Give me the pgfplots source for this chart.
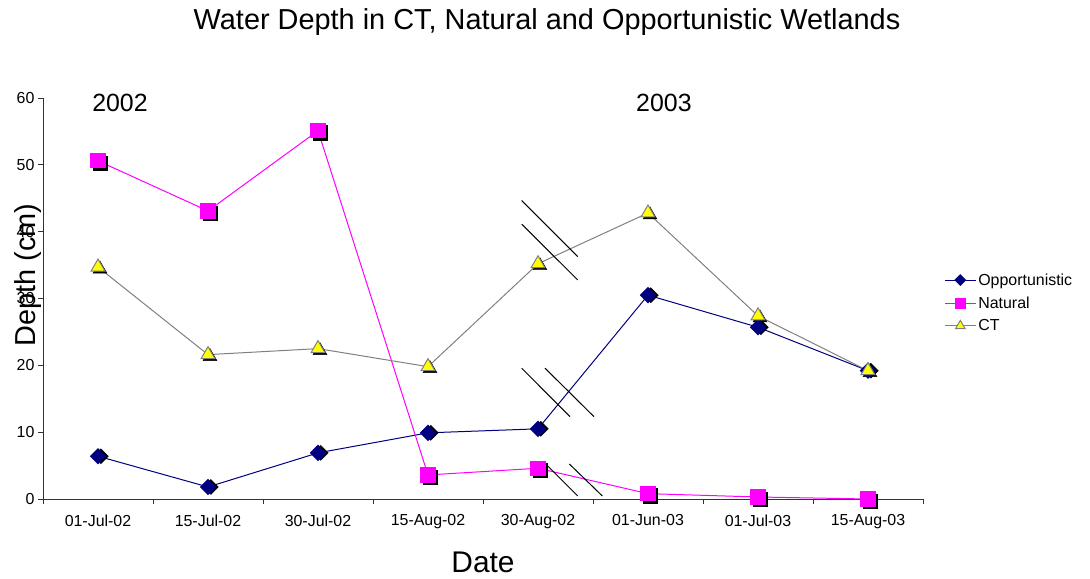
\documentclass[border=0pt]{standalone}
\usepackage{fontspec}
\setmainfont{Liberation Sans}
\usepackage{pgfplots}
\pgfplotsset{compat=1.18}
\definecolor{navyc}{RGB}{0,0,128}
\definecolor{magc}{RGB}{255,0,255}
\definecolor{grayc}{RGB}{128,128,128}
\definecolor{yelc}{RGB}{255,255,0}
\begin{document}
\begin{tikzpicture}
\useasboundingbox (-43bp,-80bp) rectangle (1047bp,499bp);
\begin{axis}[
  scale only axis, width=880bp, height=401bp,
  at={(0,0)}, anchor=south west,
  xmin=-0.5, xmax=7.5, ymin=0, ymax=60,
  axis x line*=bottom, axis y line*=left,
  axis line style={line width=0.8bp, black!80},
  xtick={0,...,7},
  xticklabels={01-Jul-02,15-Jul-02,30-Jul-02,15-Aug-02,30-Aug-02,01-Jun-03,01-Jul-03,15-Aug-03},
  major x tick style={draw=none},
  minor xtick={-0.5,0.5,...,7.5},
  ytick={0,10,...,60},
  tick align=outside,
  major tick length=5bp, minor tick length=5bp,
  tick style={line width=0.8bp, black!80},
  tick label style={font=\fontsize{16}{18}\selectfont},
  xticklabel style={yshift=-7bp},
  /pgf/number format/assume math mode=true,
  clip=false,
  legend style={at={(rel axis cs:1.024,0.489)}, anchor=west, draw=none, fill=none,
    font=\fontsize{16}{18}\selectfont, row sep=6bp, inner sep=0pt},
  legend cell align=left,
  legend image code/.code={\draw[mark repeat=2, mark phase=2, every mark/.append style={scale=0.7}] plot coordinates {(0bp,0bp) (15.5bp,0bp) (31bp,0bp)};},
]
% shadows
\addplot[forget plot, only marks, mark=square*, mark size=5.3bp, mark options={rotate=45, xshift=2bp, yshift=-2bp, fill=black, draw=black}]
  coordinates {(0,6.4) (1,1.8) (2,6.9) (3,9.9) (4,10.5) (5,30.5) (6,25.7) (7,19.2)};
\addplot[forget plot, only marks, mark=square*, mark size=7.1bp, mark options={xshift=2bp, yshift=-2bp, fill=black, draw=black}]
  coordinates {(0,50.6) (1,43.1) (2,55.1) (3,3.6) (4,4.6) (5,0.8) (6,0.3) (7,0)};
\addplot[forget plot, only marks, mark=triangle*, mark size=8bp, mark options={xshift=2bp, yshift=-2bp, fill=black, draw=black}]
  coordinates {(0,34.7) (1,21.6) (2,22.5) (3,19.8) (4,35.2) (5,42.8) (6,27.4) (7,19.2)};
% series
\addplot[navyc, line width=1bp, mark=square*, mark size=5.3bp, mark options={rotate=45, fill=navyc, draw=navyc}]
  coordinates {(0,6.4) (1,1.8) (2,6.9) (3,9.9) (4,10.5) (5,30.5) (6,25.7) (7,19.2)};
\addlegendentry{Opportunistic}
\addplot[magc, line width=1bp, mark=square*, mark size=7.1bp, mark options={fill=magc, draw=magc}]
  coordinates {(0,50.6) (1,43.1) (2,55.1) (3,3.6) (4,4.6) (5,0.8) (6,0.3) (7,0)};
\addlegendentry{Natural}
\addplot[grayc, line width=1bp, mark=triangle*, mark size=8bp, mark options={fill=yelc, draw=grayc, line width=1bp}]
  coordinates {(0,34.7) (1,21.6) (2,22.5) (3,19.8) (4,35.2) (5,42.8) (6,27.4) (7,19.2)};
\addlegendentry{CT}
% break marks
\draw[black, line width=1bp] (axis cs:3.852,44.66) -- (axis cs:4.361,36.27);
\draw[black, line width=1bp] (axis cs:3.852,41.12) -- (axis cs:4.361,32.78);
\draw[black, line width=1bp] (axis cs:3.852,19.57) -- (axis cs:4.291,12.32);
\draw[black, line width=1bp] (axis cs:4.064,19.57) -- (axis cs:4.509,12.32);
\draw[black, line width=1bp] (axis cs:4.079,5.09) -- (axis cs:4.361,0.45);
\draw[black, line width=1bp] (axis cs:4.285,5.24) -- (axis cs:4.585,0.45);
% year labels
\node[font=\fontsize{25}{28}\selectfont] at (axis cs:0.2,59.3) {2002};
\node[font=\fontsize{25}{28}\selectfont] at (axis cs:5.145,59.3) {2003};
\end{axis}
\node[font=\fontsize{29}{33}\selectfont] at (504bp,477bp) {Water Depth in CT, Natural and Opportunistic Wetlands};
\node[font=\fontsize{30}{34}\selectfont] at (440bp,-63bp) {Date};
\node[font=\fontsize{29}{33}\selectfont, rotate=90] at (-15bp,224bp) {Depth (cm)};
\end{tikzpicture}
\end{document}
